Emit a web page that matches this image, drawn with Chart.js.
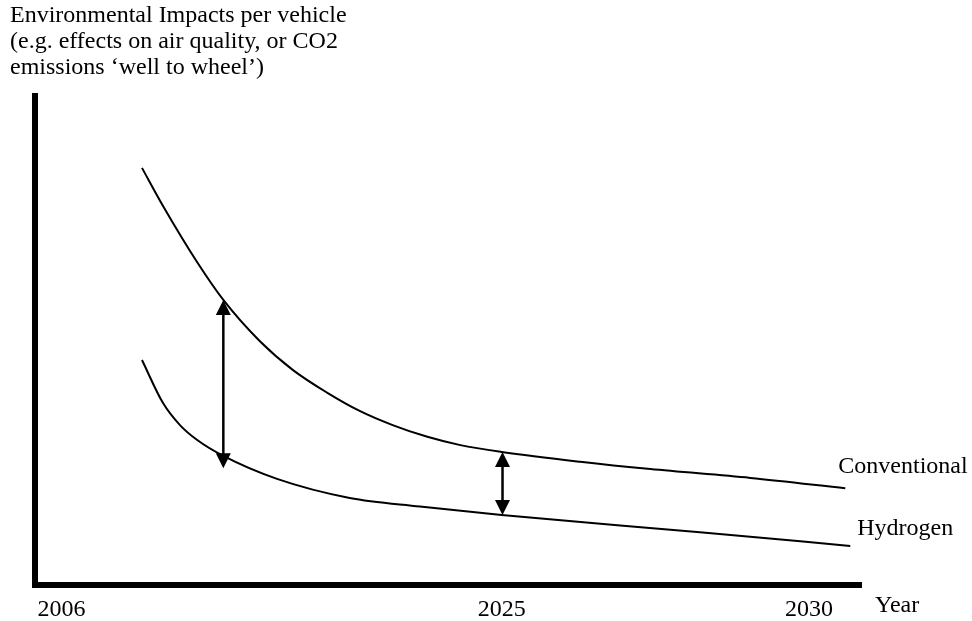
<!DOCTYPE html>
<html>
<head>
<meta charset="utf-8">
<script src="https://cdn.jsdelivr.net/npm/chart.js@4"></script>
<style>
  html, body { margin: 0; padding: 0; background: #fff; }
  #wrap { width: 972px; height: 621px; }
</style>
</head>
<body>
<div id="wrap"><canvas id="impactChart" width="972" height="621"></canvas></div>
<script>
// schematic values, in arbitrary units (x: 0..100 along the time axis, y: 0..100 impact)
const conventionalX = [12.95, 15.5, 19.6, 22.8, 27.2, 31.2, 35.4, 39.3, 43.3, 47.5, 51.5, 56.5, 66.0, 74.5, 86.6, 98.1];
const conventionalY = [85.3, 77.5, 66.1, 58.3, 49.9, 44.0, 39.3, 35.6, 32.7, 30.3, 28.6, 27.2, 25.2, 23.7, 21.9, 19.8];
const hydrogenX = [12.95, 15.5, 17.55, 19.6, 22.8, 29.3, 38.1, 46.6, 56.5, 80.5, 98.7];
const hydrogenY = [46.0, 37.2, 32.7, 29.7, 26.4, 21.7, 17.8, 16.05, 14.3, 10.8, 8.0];

// double-headed arrows showing the gap between the two curves
const arrowX = [22.8, 56.6];
const arrowTop = [58.3, 27.2];
const arrowBottom = [23.9, 14.3];

// year labels sit at uneven places along the axis
const tickValues = [3.2, 56.5, 93.7];
const tickLabels = ['2006', '2025', '2030'];

const seriesNames = ['Conventional', 'Hydrogen'];
const yTitle = [
    'Environmental Impacts per vehicle',
    '(e.g. effects on air quality, or CO2',
    'emissions \u2018well to wheel\u2019)'
];

const FONT = "'Liberation Serif', 'Times New Roman', serif";

function toPoints(xs, ys) {
    return xs.map((x, i) => ({ x: x, y: ys[i] }));
}

// arrows, curve names and axis texts
const annotate = {
    id: 'annotate',
    afterDatasetsDraw(chart) {
        const ctx = chart.ctx;
        const xs = chart.scales.x;
        const ys = chart.scales.y;
        const head = 15, half = 7.5;
        ctx.save();
        ctx.fillStyle = '#000';
        ctx.strokeStyle = '#000';
        arrowX.forEach((v, i) => {
            const x = xs.getPixelForValue(v);
            const y1 = ys.getPixelForValue(arrowTop[i]);
            const y2 = ys.getPixelForValue(arrowBottom[i]);
            ctx.lineWidth = 2.5;
            ctx.beginPath();
            ctx.moveTo(x, y1 + head - 1);
            ctx.lineTo(x, y2 - head + 1);
            ctx.stroke();
            ctx.beginPath();
            ctx.moveTo(x, y1);
            ctx.lineTo(x - half, y1 + head);
            ctx.lineTo(x + half, y1 + head);
            ctx.closePath();
            ctx.fill();
            ctx.beginPath();
            ctx.moveTo(x, y2);
            ctx.lineTo(x - half, y2 - head);
            ctx.lineTo(x + half, y2 - head);
            ctx.closePath();
            ctx.fill();
        });

        ctx.font = '24px ' + FONT;
        ctx.textBaseline = 'alphabetic';
        ctx.textAlign = 'left';
        // curve names next to the line ends
        const ends = [
            [conventionalX[conventionalX.length - 1], conventionalY[conventionalY.length - 1], -7, -15],
            [hydrogenX[hydrogenX.length - 1], hydrogenY[hydrogenY.length - 1], 7, -11]
        ];
        ends.forEach((e, i) => {
            ctx.fillText(seriesNames[i], xs.getPixelForValue(e[0]) + e[2], ys.getPixelForValue(e[1]) + e[3]);
        });

        // y axis title, top left
        yTitle.forEach((line, i) => ctx.fillText(line, 10, 22 + i * 26));
        // x axis title at the right end of the axis
        ctx.fillText('Year', xs.right + 14, xs.top + 27);
        ctx.restore();
    }
};

const ctxLine = document.getElementById('impactChart');
const chart = new Chart(ctxLine, {
    type: 'line',
    data: {
        datasets: [{
            label: seriesNames[0],
            data: toPoints(conventionalX, conventionalY),
            borderColor: '#000',
            borderWidth: 2,
            pointRadius: 0,
            cubicInterpolationMode: 'monotone',
            fill: false
        }, {
            label: seriesNames[1],
            data: toPoints(hydrogenX, hydrogenY),
            borderColor: '#000',
            borderWidth: 2,
            pointRadius: 0,
            cubicInterpolationMode: 'monotone',
            fill: false
        }]
    },
    options: {
        responsive: false,
        animation: false,
        layout: {
            padding: { left: 35, top: 96, right: 111, bottom: 0 }
        },
        plugins: {
            legend: { display: false },
            tooltip: { enabled: false }
        },
        scales: {
            x: {
                type: 'linear',
                min: 0,
                max: 100,
                grid: { display: false, drawTicks: false },
                border: { display: true, width: 6, color: '#000' },
                afterBuildTicks: (axis) => {
                    axis.ticks = tickValues.map(v => ({ value: v }));
                },
                afterFit: (axis) => { axis.height = 36; },
                ticks: {
                    autoSkip: false,
                    maxRotation: 0,
                    padding: 10,
                    color: '#000',
                    font: { family: FONT, size: 24 },
                    callback: (value, index) => tickLabels[index]
                }
            },
            y: {
                type: 'linear',
                min: 0,
                max: 100,
                grid: { display: false, drawTicks: false },
                border: { display: true, width: 6, color: '#000' },
                afterFit: (axis) => { axis.width = 0; },
                ticks: { display: false }
            }
        }
    },
    plugins: [annotate]
});
</script>
</body>
</html>
